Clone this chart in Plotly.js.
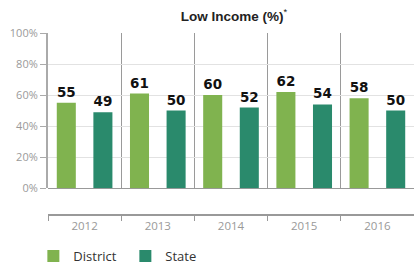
<!DOCTYPE html>
<html>
<head>
<meta charset="utf-8">
<script src="https://cdn.plot.ly/plotly-3.0.1.min.js"></script>
<style>html,body{margin:0;padding:0;background:#fff}#chart{width:414px;height:271px}</style>
</head>
<body>
<div id="chart"></div>
<script>
const years = ['2012', '2013', '2014', '2015', '2016'];
const district = [55, 61, 60, 62, 58];
const state = [49, 50, 52, 54, 50];
const seriesNames = ['District', 'State'];
const yTickVals = [0, 20, 40, 60, 80, 100];
const yTickText = ['0%', '20%', '40%', '60%', '80%', '100%'];

const labelFont = {family: 'DejaVu Sans', size: 13.5, color: '#111', weight: 'bold'};

const traces = [
  {type: 'bar', name: seriesNames[0], x: years, y: district, text: district.map(v => '<b>' + v + '</b>'),
   textposition: 'outside', textfont: labelFont, cliponaxis: false,
   marker: {color: '#80b34f'}, width: 0.26, offset: -0.38, hoverinfo: 'none'},
  {type: 'bar', name: seriesNames[1], x: years, y: state, text: state.map(v => '<b>' + v + '</b>'),
   textposition: 'outside', textfont: labelFont, cliponaxis: false,
   marker: {color: '#2a8a6c'}, width: 0.26, offset: 0.12, hoverinfo: 'none'}
];

const layout = {
  width: 414, height: 271,
  margin: {l: 48, r: 0, t: 33, b: 54},
  paper_bgcolor: '#fff', plot_bgcolor: '#fff',
  showlegend: true,
  title: {text: '<b>Low Income (%)</b><sup>*</sup>', x: 0.565, xanchor: 'center', y: 0.94, yanchor: 'middle',
    font: {family: 'Liberation Sans', size: 13.5, color: '#222'}},
  xaxis: {
    type: 'category', anchor: 'free', position: 0,
    tickson: 'boundaries', ticks: 'outside', ticklen: 5, tickcolor: '#999',
    showgrid: true, gridcolor: '#9a9a9a', gridwidth: 1,
    showline: true, linecolor: '#999', linewidth: 2,
    tickfont: {family: 'Open Sans', size: 11.5, color: '#999'},
    fixedrange: true
  },
  yaxis: {
    domain: [0.147, 1], range: [0, 100], tickmode: 'array', tickvals: yTickVals, ticktext: yTickText,
    ticks: 'outside', ticklen: 6, tickcolor: '#aaa',
    showgrid: true, gridcolor: '#e2e2e2', gridwidth: 1,
    zeroline: true, zerolinecolor: '#999', zerolinewidth: 1,
    showline: true, linecolor: '#aaa', linewidth: 2,
    tickfont: {family: 'Open Sans', size: 11, color: '#9a9a9a'},
    fixedrange: true
  },
  legend: {orientation: 'h', x: -0.04, xanchor: 'left', y: -0.227, yanchor: 'middle',
    font: {family: 'Open Sans', size: 13, color: '#333'}, entrywidth: 47, entrywidthmode: 'pixels',
    itemwidth: 30, traceorder: 'normal'}
};

Plotly.newPlot('chart', traces, layout, {displayModeBar: false, staticPlot: true});
</script>
</body>
</html>
